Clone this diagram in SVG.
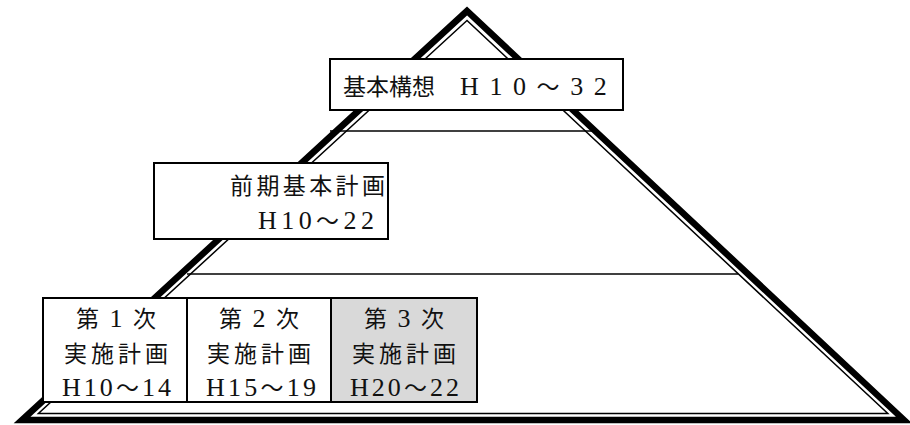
<svg xmlns="http://www.w3.org/2000/svg" width="910" height="425" viewBox="0 0 910 425">
<style>
.bg{fill:#ffffff}
.outer{fill:none;stroke:#000;stroke-width:6.5;stroke-linejoin:miter}
.inner{fill:none;stroke:#000;stroke-width:1.5;stroke-linejoin:miter}
.div{stroke:#000;stroke-width:1.5;fill:none}
.box{fill:#fff;stroke:#000;stroke-width:2}
.gray{fill:#d9d9d9;stroke:#000;stroke-width:2}
.t{font-family:"Liberation Serif","Noto Sans CJK JP",serif;font-size:23px;fill:#111;text-anchor:start}
.l{font-size:26px}
</style>
<rect class="bg" x="0" y="0" width="910" height="425"/>
<g id="pyramid">
<polygon class="outer" points="467,11 22,420 904,420"/>
<polygon class="inner" points="467,20.5 38.4,413.5 887.8,413.5"/>
</g>
<g id="dividers">
<line class="div" x1="330" y1="131" x2="594" y2="131"/>
<line class="div" x1="187" y1="274" x2="738" y2="274"/>
</g>
<g id="node-kihonkoso">
<rect class="box" x="330" y="59" width="293" height="51"/>
<text class="t" y="95"><tspan x="343">基本構想</tspan><tspan x="437">　</tspan><tspan class="l" x="460 489.4 513">H10</tspan><tspan x="536.6">～</tspan><tspan class="l" x="570.2 593.8">32</tspan></text>
</g>
<g id="node-zenki">
<rect class="box" x="154" y="163" width="234" height="76"/>
<text class="t" x="230" y="194" textLength="155" lengthAdjust="spacing">前期基本計画</text>
<text class="t" x="258" y="229" textLength="116" lengthAdjust="spacing"><tspan class="l">H10</tspan>～<tspan class="l">22</tspan></text>
</g>
<g id="node-dai1">
<rect class="box" x="43" y="298" width="144" height="104"/>
<text class="t" x="76" y="327" textLength="80" lengthAdjust="spacing">第 <tspan class="l">1</tspan> 次</text>
<text class="t" x="64" y="362" textLength="104" lengthAdjust="spacing">実施計画</text>
<text class="t" x="62" y="396" textLength="109" lengthAdjust="spacing"><tspan class="l">H10</tspan>～<tspan class="l">14</tspan></text>
</g>
<g id="node-dai2">
<rect class="box" x="187" y="298" width="144" height="104"/>
<text class="t" x="219" y="327" textLength="80" lengthAdjust="spacing">第 <tspan class="l">2</tspan> 次</text>
<text class="t" x="207" y="362" textLength="104" lengthAdjust="spacing">実施計画</text>
<text class="t" x="206" y="396" textLength="110" lengthAdjust="spacing"><tspan class="l">H15</tspan>～<tspan class="l">19</tspan></text>
</g>
<g id="node-dai3">
<rect class="gray" x="331" y="298" width="146" height="104"/>
<text class="t" x="364" y="327" textLength="80" lengthAdjust="spacing">第 <tspan class="l">3</tspan> 次</text>
<text class="t" x="352" y="362" textLength="104" lengthAdjust="spacing">実施計画</text>
<text class="t" x="350" y="396" textLength="109" lengthAdjust="spacing"><tspan class="l">H20</tspan>～<tspan class="l">22</tspan></text>
</g>
</svg>
